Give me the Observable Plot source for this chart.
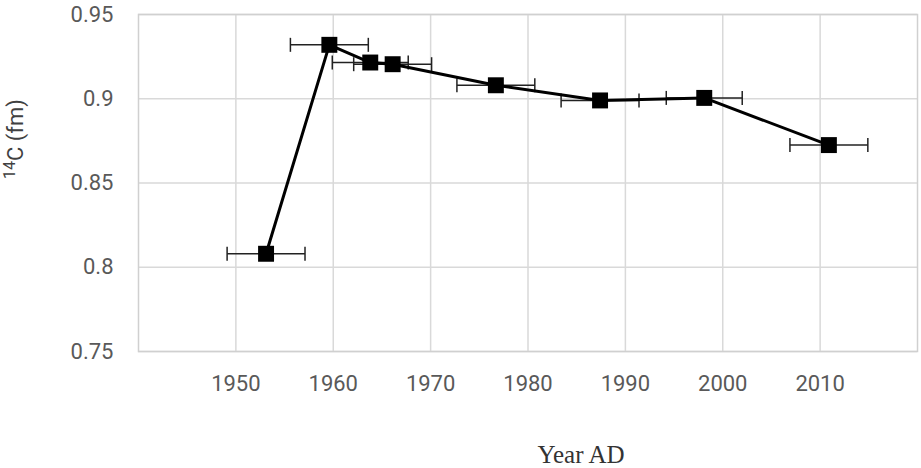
<!DOCTYPE html>
<html>
<head>
<meta charset="utf-8">
<script src="https://cdn.jsdelivr.net/npm/d3@7"></script>
<script src="https://cdn.jsdelivr.net/npm/@observablehq/plot@0.6"></script>
<style>
  html, body { margin: 0; padding: 0; background: #fff; }
  #chart [aria-label="x-axis tick label"] text { font-size: 22px; font-family: Roboto, 'Liberation Sans', sans-serif; fill: #595959; }
  #chart [aria-label="y-axis tick label"] text { font-size: 22px; font-family: Roboto, 'Liberation Sans', sans-serif; fill: #595959; }
</style>
</head>
<body>
<div id="chart"></div>
<script>
const years = [1953.1, 1959.6, 1963.8, 1966.1, 1976.7, 1987.4, 1998.1, 2010.9];
const values = [0.808, 0.932, 0.9215, 0.9205, 0.908, 0.899, 0.9005, 0.8725];
const yearErr = [4, 4, 3.9, 4, 4, 4, 3.9, 4];
const xTicks = [1950, 1960, 1970, 1980, 1990, 2000, 2010];
const yTicks = [0.75, 0.8, 0.85, 0.9, 0.95];
const yTickLabels = ["0.75", "0.8", "0.85", "0.9", "0.95"];
const xTitle = "Year AD";

const data = years.map((x, i) => ({x, y: values[i], lo: x - yearErr[i], hi: x + yearErr[i]}));

const capSymbol = {
  draw(context, size) {
    const r = Math.sqrt(size / Math.PI);
    context.moveTo(0, -r);
    context.lineTo(0, r);
  }
};

const chart = Plot.plot({
  width: 921,
  height: 468,
  marginLeft: 138,
  marginRight: 4,
  marginTop: 14,
  marginBottom: 117,
  x: {domain: [1940, 2020]},
  y: {domain: [0.75, 0.95]},
  marks: [
    Plot.gridX(xTicks, {stroke: "#d9d9d9", strokeOpacity: 1, strokeWidth: 1.5}),
    Plot.gridY(yTicks, {stroke: "#d9d9d9", strokeOpacity: 1, strokeWidth: 1.5}),
    Plot.frame({stroke: "#d0d0d0", strokeWidth: 1.5}),
    Plot.axisY({ticks: yTicks, tickSize: 0, tickPadding: 25, tickFormat: (d) => yTickLabels[yTicks.indexOf(d)], label: null}),
    Plot.axisX({ticks: xTicks, tickSize: 0, tickPadding: 24, tickFormat: (d) => String(d), label: null}),
    Plot.link(data, {x1: "lo", x2: "hi", y1: "y", y2: "y", stroke: "#222", strokeWidth: 1.5}),
    Plot.dot(data, {x: "lo", y: "y", symbol: capSymbol, r: 7, stroke: "#222", strokeWidth: 1.5, fill: "none"}),
    Plot.dot(data, {x: "hi", y: "y", symbol: capSymbol, r: 7, stroke: "#222", strokeWidth: 1.5, fill: "none"}),
    Plot.line(data, {x: "x", y: "y", stroke: "#000", strokeWidth: 3}),
    Plot.dot(data, {x: "x", y: "y", symbol: "square", r: 9, fill: "#000", stroke: "none"})
  ]
});

const svg = d3.select(chart);
// x title
svg.append("text")
  .attr("x", 581)
  .attr("y", 463)
  .attr("text-anchor", "middle")
  .attr("font-family", "'Liberation Serif', serif")
  .attr("font-size", 25)
  .attr("fill", "#333")
  .text(xTitle);
// y title with superscript
const yt = svg.append("text")
  .attr("transform", "translate(21,139) rotate(-90)")
  .attr("text-anchor", "middle")
  .attr("font-family", "Roboto, 'Liberation Sans', sans-serif")
  .attr("font-size", 22)
  .attr("fill", "#404040");
yt.append("tspan").attr("font-size", 16).attr("dy", "-0.4em").text("14");
yt.append("tspan").attr("dy", "0.4em").text("C (fm)");

document.getElementById("chart").appendChild(chart);
</script>
</body>
</html>
